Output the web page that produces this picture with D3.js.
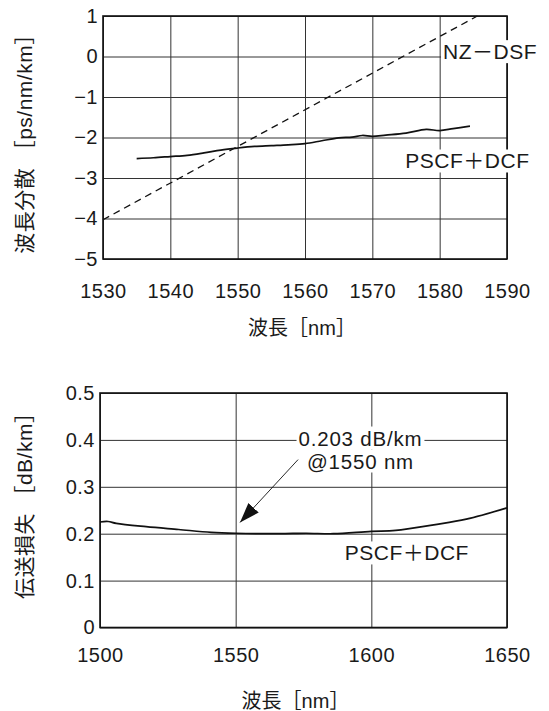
<!DOCTYPE html>
<html>
<head>
<meta charset="utf-8">
<script src="https://cdn.jsdelivr.net/npm/d3@7"></script>
<style>
  body { margin: 0; background: #fff; }
  text { font-family: "Liberation Sans", Arial, "Noto Sans CJK JP", sans-serif; fill: #1a1a1a; }
  .cjk { font-family: "Liberation Sans", "Noto Sans CJK JP", sans-serif; }
  .grid line { stroke: #333; stroke-width: 1; }
  .grid text { font-size: 20px; letter-spacing: 0.5px; }
</style>
</head>
<body>
<svg id="chart" width="549" height="711"></svg>
<script>
// ---- top chart: dispersion ----
const topXTicks = [1530, 1540, 1550, 1560, 1570, 1580, 1590];
const topYTicks = [1, 0, -1, -2, -3, -4, -5];
const topYTickLabels = ["1", "0", "\u22121", "\u22122", "\u22123", "\u22124", "\u22125"];

const pscfWavelength = [1535, 1537.5, 1540, 1542.5, 1545, 1547.5, 1550, 1552.5, 1555, 1557.5,
  1560, 1562.5, 1565, 1567, 1568.5, 1570, 1572, 1575, 1578, 1580, 1582, 1584.5];
const pscfDispersion = [-2.52, -2.50, -2.47, -2.44, -2.38, -2.31, -2.26, -2.22, -2.20, -2.18,
  -2.15, -2.08, -2.01, -1.99, -1.95, -1.97, -1.94, -1.89, -1.80, -1.83, -1.78, -1.72];

const nzWavelength = [1530, 1585.6];
const nzDispersion = [-4.03, 1.0];

// ---- bottom chart: loss ----
const botXTicks = [1500, 1550, 1600, 1650];
const botYTicks = [0.5, 0.4, 0.3, 0.2, 0.1, 0];
const botYTickLabels = ["0.5", "0.4", "0.3", "0.2", "0.1", "0"];

const lossWavelength = [1500, 1503, 1506, 1517, 1529, 1541, 1550, 1566, 1576, 1586, 1600, 1609, 1623, 1635, 1650];
const lossValue = [0.225, 0.226, 0.222, 0.215, 0.209, 0.203, 0.201, 0.200, 0.201, 0.200, 0.205, 0.207, 0.219, 0.231, 0.255];

const arrowTip = [1551.6, 0.224];
const arrowStart = [1573, 0.358];
const noteLines = ["0.203 dB/km", "@1550 nm"];
const notePos = [[1596, 0.404], [1596, 0.355]];

const svg = d3.select("#chart");

svg.append("defs").append("marker")
  .attr("id", "arrow")
  .attr("viewBox", "0 0 20 14")
  .attr("refX", 20)
  .attr("refY", 7)
  .attr("markerWidth", 20)
  .attr("markerHeight", 14)
  .attr("markerUnits", "userSpaceOnUse")
  .attr("orient", "auto")
  .append("path")
  .attr("d", "M0,0 L20,7 L0,14 Z")
  .attr("fill", "#111");

// white box behind a label so grid lines stop at the text
function knockout(g, sel) {
  const b = sel.node().getBBox();
  g.insert("rect", () => sel.node())
    .attr("x", b.x - 2).attr("y", b.y)
    .attr("width", b.width + 4).attr("height", b.height)
    .attr("fill", "#fff");
}

function drawFrame(g, x, y, xTicks, yTicks, yLabels, w, h, xPad) {
  g.append("g")
    .attr("class", "grid")
    .attr("transform", `translate(0,${h})`)
    .call(d3.axisBottom(x).tickValues(xTicks).tickSize(-h).tickPadding(xPad).tickFormat(d3.format("d")))
    .call(a => a.select(".domain").remove());

  g.append("g")
    .attr("class", "grid")
    .call(d3.axisLeft(y).tickValues(yTicks).tickSize(-w).tickPadding(5)
      .tickFormat((d, i) => yLabels[i]))
    .call(a => a.select(".domain").remove());

  g.append("rect")
    .attr("width", w)
    .attr("height", h)
    .attr("fill", "none")
    .attr("stroke", "#111")
    .attr("stroke-width", 1.6);
}

// ================= top =================
{
  const margin = { left: 103, top: 16 };
  const w = 404, h = 243;
  const g = svg.append("g").attr("transform", `translate(${margin.left},${margin.top})`);

  const x = d3.scaleLinear().domain([1530, 1590]).range([0, w]);
  const y = d3.scaleLinear().domain([-5, 1]).range([h, 0]);

  drawFrame(g, x, y, topXTicks, topYTicks, topYTickLabels, w, h, 25);

  const line = d3.line()
    .x(d => x(d[0]))
    .y(d => y(d[1]));

  g.append("path")
    .datum(nzWavelength.map((d, i) => [d, nzDispersion[i]]))
    .attr("fill", "none")
    .attr("stroke", "#111")
    .attr("stroke-width", 1.3)
    .attr("stroke-dasharray", "7,5")
    .attr("d", line);

  g.append("path")
    .datum(pscfWavelength.map((d, i) => [d, pscfDispersion[i]]))
    .attr("fill", "none")
    .attr("stroke", "#111")
    .attr("stroke-width", 1.7)
    .attr("d", line.curve(d3.curveCatmullRom));

  const nz = g.append("text")
    .attr("x", x(1580.5)).attr("y", y(0.12))
    .attr("dominant-baseline", "central")
    .style("font-size", "21px")
    .style("letter-spacing", "0.5px")
    .text("NZ\uFF0DDSF");
  knockout(g, nz);

  const ps = g.append("text")
    .attr("x", x(1574.9)).attr("y", y(-2.58))
    .attr("dominant-baseline", "central")
    .style("font-size", "21px")
    .style("letter-spacing", "0.5px")
    .text("PSCF\uFF0BDCF");
  knockout(g, ps);

  g.append("text")
    .attr("class", "cjk")
    .attr("transform", `translate(${24 - margin.left},${h / 2 + 1}) rotate(-90)`)
    .attr("text-anchor", "middle")
    .attr("dominant-baseline", "central")
    .style("font-size", "21px")
    .style("letter-spacing", "0.5px")
    .text("波長分散 ［ps/nm/km］");

  g.append("text")
    .attr("class", "cjk")
    .attr("x", w / 2 - 3).attr("y", h + 69)
    .attr("text-anchor", "middle")
    .attr("dominant-baseline", "central")
    .style("font-size", "20px")
    .text("波長［nm］");
}

// ================= bottom =================
{
  const margin = { left: 100, top: 393 };
  const w = 407, h = 234.5;
  const g = svg.append("g").attr("transform", `translate(${margin.left},${margin.top})`);

  const x = d3.scaleLinear().domain([1500, 1650]).range([0, w]);
  const y = d3.scaleLinear().domain([0, 0.5]).range([h, 0]);

  drawFrame(g, x, y, botXTicks, botYTicks, botYTickLabels, w, h, 20);

  const line = d3.line()
    .x(d => x(d[0]))
    .y(d => y(d[1]))
    .curve(d3.curveCatmullRom);

  g.append("path")
    .datum(lossWavelength.map((d, i) => [d, lossValue[i]]))
    .attr("fill", "none")
    .attr("stroke", "#111")
    .attr("stroke-width", 1.7)
    .attr("d", line);

  // annotation
  g.append("line")
    .attr("x1", x(arrowStart[0])).attr("y1", y(arrowStart[1]))
    .attr("x2", x(arrowTip[0])).attr("y2", y(arrowTip[1]))
    .attr("stroke", "#111")
    .attr("stroke-width", 0.9)
    .attr("marker-end", "url(#arrow)");

  noteLines.forEach((t, i) => {
    const txt = g.append("text")
      .attr("x", x(notePos[i][0])).attr("y", y(notePos[i][1]))
      .attr("text-anchor", "middle")
      .attr("dominant-baseline", "central")
      .style("font-size", "20.5px")
      .style("letter-spacing", "0.8px")
      .text(t);
    knockout(g, txt);
  });

  const ps = g.append("text")
    .attr("x", x(1590.2)).attr("y", y(0.159))
    .attr("dominant-baseline", "central")
    .style("font-size", "21px")
    .style("letter-spacing", "0.5px")
    .text("PSCF\uFF0BDCF");
  knockout(g, ps);

  g.append("text")
    .attr("class", "cjk")
    .attr("transform", `translate(${24 - margin.left},${h / 2 - 10}) rotate(-90)`)
    .attr("text-anchor", "middle")
    .attr("dominant-baseline", "central")
    .style("font-size", "21px")
    .style("letter-spacing", "0.5px")
    .text("伝送損失 ［dB/km］");

  g.append("text")
    .attr("class", "cjk")
    .attr("x", w / 2 - 8).attr("y", h + 73)
    .attr("text-anchor", "middle")
    .attr("dominant-baseline", "central")
    .style("font-size", "20px")
    .text("波長［nm］");
}
</script>
</body>
</html>
